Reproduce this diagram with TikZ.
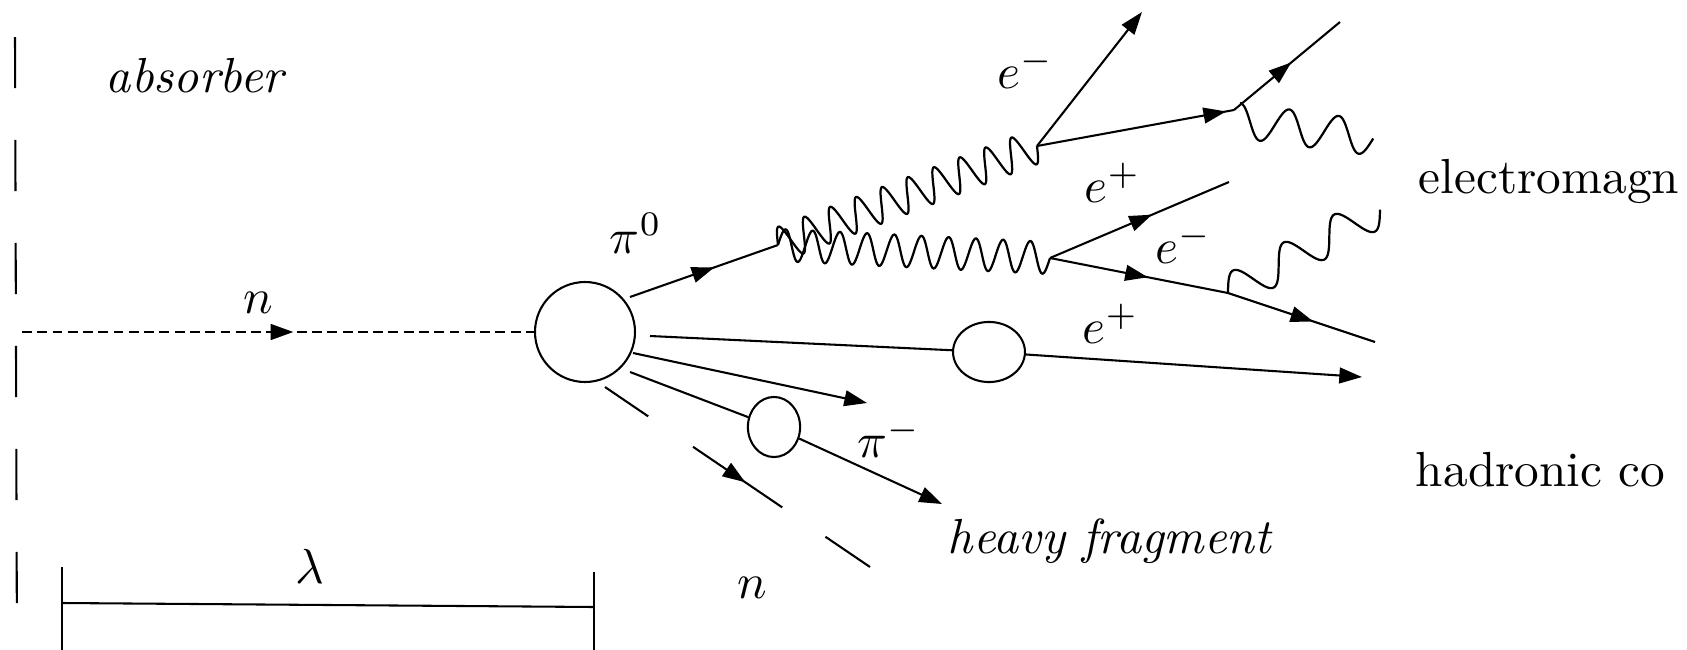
\documentclass[tikz,border=0pt]{standalone}
\usetikzlibrary{arrows.meta,decorations.markings,shapes.geometric}
\tikzset{
  tk/.style={line width=0.42pt},
  endtip/.style={tk,-{Triangle[length=4.6pt,width=3.2pt]}},
  midarrow/.style={tk,postaction={decorate},decoration={markings,mark=at position #1 with {\arrow{Triangle[length=4.6pt,width=3.2pt]}}}},
  blob/.style={draw,ellipse,inner sep=0pt,line width=0.42pt},
  lbl/.style={anchor=base west,inner sep=0pt},
  photon/.style={line width=0.45pt},
  ndash/.style={dash pattern=on 2pt off 1.1pt},
}
\begin{document}
\begin{tikzpicture}[x=0.203pt,y=-0.203pt]
\fill[white] (0,0) rectangle (1687,650);
\useasboundingbox (0,0) rectangle (1687,650);
\clip (0,0) rectangle (1687,650);

% absorber boundary and interaction length
\draw[tk,dash pattern=on 10.4pt off 10.5pt] (15,37) -- (17,660);
\coordinate (lamL) at (62,603);
\coordinate (lamR) at (594,607);
\draw[tk] (62,567) -- (62,660);
\draw[tk] (594,572) -- (594,660);
\draw[tk] (lamL) -- (lamR);

% nodes
\node[draw,circle,inner sep=0pt,minimum size=20.3pt,line width=0.42pt] (C) at (585,332) {};
\node[blob,minimum width=14.6pt,minimum height=12.2pt] (E2) at (989,352) {};
\node[blob,minimum width=10.6pt,minimum height=12.2pt] (E3) at (774,427) {};

% coordinates
\coordinate (nin) at (22,332);
\coordinate (a1) at (630,297);
\coordinate (V0) at (778,245);
\coordinate (V1) at (1037,146);
\coordinate (V2) at (1234,110);
\coordinate (V3) at (1050,258);
\coordinate (B) at (1228,293);
\coordinate (eU) at (1142,12);
\coordinate (eU2) at (1340,22);
\coordinate (ePe) at (1229,182);
\coordinate (eMe) at (1375,342);
\coordinate (s2) at (650,336);
\coordinate (t2) at (1362,377);
\coordinate (s3) at (633,353);
\coordinate (t3) at (867,403);
\coordinate (s4) at (630,372);
\coordinate (t4) at (942,504);
\coordinate (s5) at (605,387);
\coordinate (t5) at (870,567);

% incoming neutron
\draw[ndash,midarrow=0.53] (nin) -- (C);

% pi0 and photons
\draw[midarrow=0.57] (a1) -- (V0);
\draw[photon] plot[variable=\t,domain=0:1,samples=401,smooth]
  ({778+259*\t-6.07*sin(3600*\t)},{245-99*\t-15.88*sin(3600*\t)});
\draw[photon] plot[variable=\t,domain=0:1,samples=401,smooth]
  ({778+272*\t+0.76*sin(3600*\t)},{245+13*\t-15.98*sin(3600*\t)});

% upper pair
\draw[endtip] (V1) -- (eU);
\draw[midarrow=0.96] (V1) -- (V2);
\draw[midarrow=0.54] (V2) -- (eU2);
\draw[photon] plot[variable=\t,domain=0:1,samples=161,smooth]
  ({1237.7+135.8*\t+2.3*cos(990*\t)},{120.3+17.8*\t-17.3*cos(990*\t)});

% lower pair
\draw[midarrow=0.57] (V3) -- (ePe);
\draw[midarrow=0.55] (V3) -- (B);
\draw[midarrow=0.58] (B) -- (eMe);
\draw[photon] plot[variable=\t,domain=0:1,samples=161,smooth]
  ({1228+152*\t-7.74*sin(1080*\t)},{293-84*\t-15.5*sin(1080*\t)});

% hadronic tracks
\draw[tk] (s2) -- (E2);
\draw[endtip] (E2) -- (t2);
\draw[endtip] (s3) -- (t3);
\draw[tk] (s4) -- (E3);
\draw[endtip] (E3) -- (t4);
\draw[dash pattern=on 10.6pt off 11pt on 21.9pt off 10.6pt on 11pt,midarrow=0.53] (s5) -- (t5);

% labels
\node[lbl] (Labs) at (105,92) {\textit{absorber}};
\node[lbl] (Ln) at (243,313) {$n$};
\node[lbl] (Lpi0) at (609,253) {$\pi^0$};
\node[lbl] (Lem1) at (997,88) {$e^-$};
\node[lbl] (Lep1) at (1084,202) {$e^+$};
\node[lbl] (Lem2) at (1155,263) {$e^-$};
\node[lbl] (Lep2) at (1082,343) {$e^+$};
\node[lbl] (Lpim) at (857,457) {$\pi^-$};
\node[lbl] (Lheavy) at (947,553) {\textit{heavy fragment}};
\node[lbl] (Ln2) at (737,598) {$n$};
\node[lbl] (Llam) at (295,583) {$\lambda$};
\node[lbl] (Lem) at (1418,193) {electromagn};
\node[lbl] (Lhad) at (1415,486) {hadronic co};
\end{tikzpicture}
\end{document}
